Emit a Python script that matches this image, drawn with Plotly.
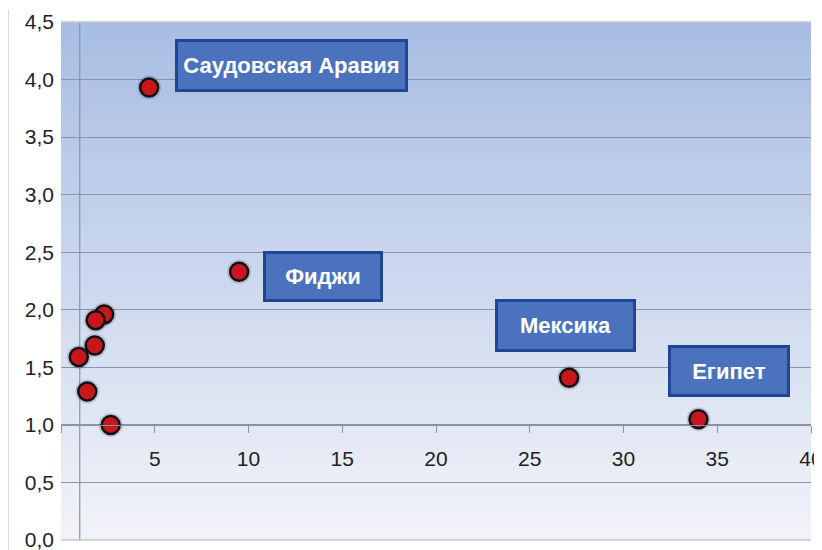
import plotly.graph_objects as go

# ---- data ----
x_vals = [4.7, 9.5, 27.1, 34.0, 2.3, 1.85, 1.8, 0.95, 1.4, 2.65]
y_vals = [3.93, 2.33, 1.41, 1.05, 1.96, 1.91, 1.69, 1.59, 1.29, 1.00]
point_labels = ["Саудовская Аравия", "Фиджи", "Мексика", "Египет", "", "", "", "", "", ""]
x_tickvals = [0, 5, 10, 15, 20, 25, 30, 35, 40]
x_ticktext = ["", "5", "10", "15", "20", "25", "30", "35", "40"]
y_tickvals = [0, 0.5, 1.0, 1.5, 2.0, 2.5, 3.0, 3.5, 4.0, 4.5]

# ---- style ----
X_RANGE = [0, 40]
Y_RANGE = [0, 4.5]
X_AXIS_CROSS = 1.0   # horizontal axis crosses at y = 1
Y_AXIS_CROSS = 1.0   # vertical axis line at x = 1
label_offsets = {  # pixel offsets of label box centres from their points, box size
    "Саудовская Аравия": (142, -22, 227, 47),
    "Фиджи": (84, 5, 114, 45),
    "Мексика": (-4, -52, 135, 47),
    "Египет": (30, -48, 116, 46),
}
FONT = "Liberation Sans, Arial, sans-serif"
GRID = "#8a93a9"
EDGE = "#c4c7cc"
PAGE_OFFSET = 8  # the page body adds an 8px margin; compensate

fig = go.Figure()
# soft shadow under the markers
fig.add_trace(go.Scatter(
    x=x_vals, y=y_vals, mode="markers",
    marker=dict(size=24, color="rgba(40,45,80,0.18)", line=dict(width=0)),
    hoverinfo="skip", showlegend=False,
))
fig.add_trace(go.Scatter(
    x=x_vals, y=y_vals, mode="markers",
    marker=dict(size=18, color="#c8161d", line=dict(color="#111111", width=2.5)),
    hoverinfo="x+y", showlegend=False,
))

# gradient background bands
top = (168, 189, 227)
bot = (241, 243, 248)
N = 60
shapes = []
for i in range(N):
    t = i / (N - 1)
    c = tuple(round(top[k] + (bot[k] - top[k]) * t) for k in range(3))
    shapes.append(dict(type="rect", xref="x domain", yref="y domain",
                       x0=0, x1=1, y0=max(0, 1 - (i + 1.6) / N), y1=1 - i / N,
                       fillcolor="rgb(%d,%d,%d)" % c, line=dict(width=0), layer="below"))
# vertical axis line
shapes.append(dict(type="line", xref="x", yref="y domain", x0=Y_AXIS_CROSS, x1=Y_AXIS_CROSS,
                   y0=0, y1=1, line=dict(color=GRID, width=1.2), layer="below"))
# top / bottom plot edges
for yy in (0, 1):
    shapes.append(dict(type="line", xref="x domain", yref="y domain", x0=0, x1=1,
                       y0=yy, y1=yy, line=dict(color=EDGE, width=1.5), layer="above"))
# outer left border
shapes.append(dict(type="line", xref="paper", yref="paper", x0=-0.0706, x1=-0.0706,
                   y0=-0.04, y1=1.023, line=dict(color="#c8c8c8", width=1.2)))

annotations = []
for xv, yv, name in zip(x_vals, y_vals, point_labels):
    if not name:
        continue
    ax, ay, w, h = label_offsets[name]
    annotations.append(dict(
        x=xv, y=yv, xref="x", yref="y", text="<b>%s</b>" % name,
        showarrow=True, arrowcolor="rgba(0,0,0,0)", arrowwidth=0.1, ax=ax, ay=ay,
        width=w, height=h, bgcolor="#4b73bd", bordercolor="#1f4795", borderwidth=3,
        borderpad=0, font=dict(family=FONT, size=22, color="white"),
    ))

fig.update_layout(
    width=822, height=550,
    margin=dict(l=61 - PAGE_OFFSET, r=11 + PAGE_OFFSET, t=22 - PAGE_OFFSET,
                b=10 + PAGE_OFFSET, autoexpand=False),
    paper_bgcolor="white", plot_bgcolor="rgba(0,0,0,0)",
    separators=", ",
    font=dict(family=FONT, size=21, color="#222222"),
    shapes=shapes, annotations=annotations,
    xaxis=dict(range=X_RANGE, tickvals=x_tickvals, ticktext=x_ticktext,
               showgrid=False, zeroline=False, anchor="free", automargin=False,
               position=X_AXIS_CROSS / Y_RANGE[1], showline=True, linecolor=GRID,
               linewidth=1.2, ticks="outside", ticklen=7, tickcolor=GRID,
               ticklabelstandoff=8),
    yaxis=dict(range=Y_RANGE, tickvals=y_tickvals, tickformat=".1f", automargin=False,
               showgrid=True, gridcolor=GRID, gridwidth=1.2, zeroline=False,
               showline=False, ticks="", ticklabelstandoff=6),
)

fig.write_html("out.html")
